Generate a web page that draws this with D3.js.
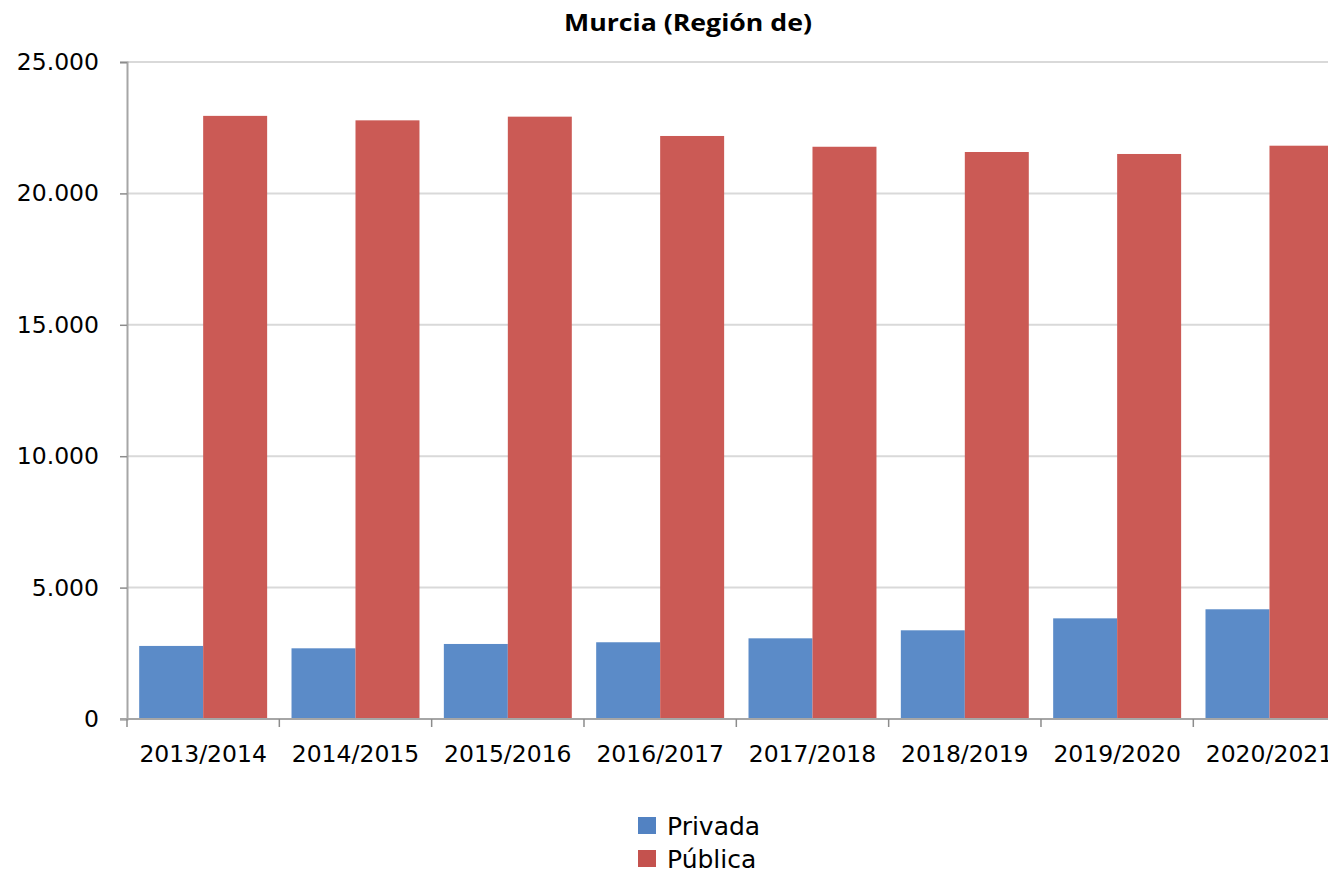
<!DOCTYPE html>
<html>
<head>
<meta charset="utf-8">
<script src="https://cdn.jsdelivr.net/npm/d3@7"></script>
<style>
    html, body { margin: 0; padding: 0; background: #fff; overflow: hidden; }
    #chart { width: 1328px; height: 875px; }
    text { font-family: "DejaVu Sans", Verdana, sans-serif; fill: #000; }
</style>
</head>
<body>
<div id="chart"></div>
<script>
// datos
var cursos = ["2013/2014", "2014/2015", "2015/2016", "2016/2017", "2017/2018", "2018/2019", "2019/2020", "2020/2021"];
var privada = [2780, 2690, 2855, 2920, 3070, 3375, 3830, 4175];
var publica = [22950, 22780, 22920, 22185, 21775, 21575, 21500, 21815];
var series = ["Privada", "Pública"];
var colores = ["#5b8bc8", "#cb5a55"];
var colLeyenda = ["#5282c2", "#c4524e"];
var yTicks = [0, 5000, 10000, 15000, 20000, 25000];

var W = 1328, H = 875;
var margin = {top: 62, left: 127, bottom: 156};
var plotRight = 127 + 8 * 152.33; // la serie sigue fuera del lienzo

var svg = d3.select("#chart").append("svg")
    .attr("width", W)
    .attr("height", H);

var locale = d3.formatLocale({decimal: ",", thousands: ".", grouping: [3], currency: ["", " €"]});
var fmt = locale.format(",d");

var x0 = d3.scaleBand()
    .domain(cursos)
    .range([margin.left, plotRight])
    .paddingInner(0.16)
    .paddingOuter(0.08);

var x1 = d3.scaleBand()
    .domain(series)
    .range([0, x0.bandwidth()]);

var y = d3.scaleLinear()
    .domain([0, 25000])
    .range([H - margin.bottom, margin.top]);

// lineas de cuadricula
svg.append("g")
    .selectAll("line")
    .data(yTicks.slice(1))
    .enter().append("line")
        .attr("x1", margin.left)
        .attr("x2", W)
        .attr("y1", d => y(d))
        .attr("y2", d => y(d))
        .attr("stroke", "#d9d9d9")
        .attr("stroke-width", 2);

// barras
var datos = cursos.map((c, i) => ({curso: c, valores: [privada[i], publica[i]]}));

var grupos = svg.append("g")
    .selectAll("g")
    .data(datos)
    .enter().append("g")
        .attr("transform", d => "translate(" + x0(d.curso) + ",0)");

grupos.selectAll("rect")
    .data(d => d.valores.map((v, k) => ({serie: series[k], valor: v, k: k})))
    .enter().append("rect")
        .attr("x", d => x1(d.serie))
        .attr("y", d => y(d.valor))
        .attr("width", x1.bandwidth())
        .attr("height", d => y(0) - y(d.valor))
        .attr("fill", d => colores[d.k]);

// eje Y
var ejeY = svg.append("g")
    .attr("transform", "translate(" + margin.left + ",0)")
    .call(d3.axisLeft(y).tickValues(yTicks).tickFormat(fmt).tickSize(7).tickPadding(21));
ejeY.select(".domain").attr("stroke", "#a6a6a6").attr("stroke-width", 2);
ejeY.selectAll(".tick line").attr("stroke", "#8c8c8c").attr("stroke-width", 1.5);
ejeY.selectAll(".tick text")
    .style("font-size", "23.5px")
    .style("font-family", "DejaVu Sans, sans-serif")
    .attr("fill", "#000");

// eje X
var ejeX = svg.append("g")
    .attr("transform", "translate(0," + y(0) + ")");
ejeX.append("line")
    .attr("x1", margin.left - 7)
    .attr("x2", W)
    .attr("stroke", "#a6a6a6")
    .attr("stroke-width", 2);
var bordes = cursos.map(c => x0(c) - x0.step() * x0.paddingInner() / 2);
bordes.push(bordes[bordes.length - 1] + x0.step());
ejeX.selectAll("line.marca")
    .data(bordes)
    .enter().append("line")
        .attr("class", "marca")
        .attr("x1", d => d)
        .attr("x2", d => d)
        .attr("y1", 0)
        .attr("y2", 8)
        .attr("stroke", "#8c8c8c")
        .attr("stroke-width", 1.5);
ejeX.selectAll("text")
    .data(cursos)
    .enter().append("text")
        .attr("x", d => x0(d) + x0.bandwidth() / 2)
        .attr("y", 43)
        .attr("text-anchor", "middle")
        .style("font-size", "23.5px")
        .text(d => d);

// titulo
svg.append("text")
    .attr("x", 688)
    .attr("y", 31)
    .attr("text-anchor", "middle")
    .attr("textLength", 248)
    .attr("lengthAdjust", "spacingAndGlyphs")
    .style("font-family", "Open Sans, Liberation Sans, sans-serif")
    .style("font-weight", "bold")
    .style("font-size", "24px")
    .text("Murcia (Región de)");

// leyenda
var leyenda = svg.append("g")
    .attr("transform", "translate(638,817)");
var items = leyenda.selectAll("g")
    .data(series)
    .enter().append("g")
        .attr("transform", (d, i) => "translate(0," + (i * 33) + ")");
items.append("rect")
    .attr("width", 18)
    .attr("height", 17)
    .attr("fill", (d, i) => colLeyenda[i]);
items.append("text")
    .attr("x", 29)
    .attr("y", 18)
    .style("font-size", "25px")
    .text(d => d);
</script>
</body>
</html>
